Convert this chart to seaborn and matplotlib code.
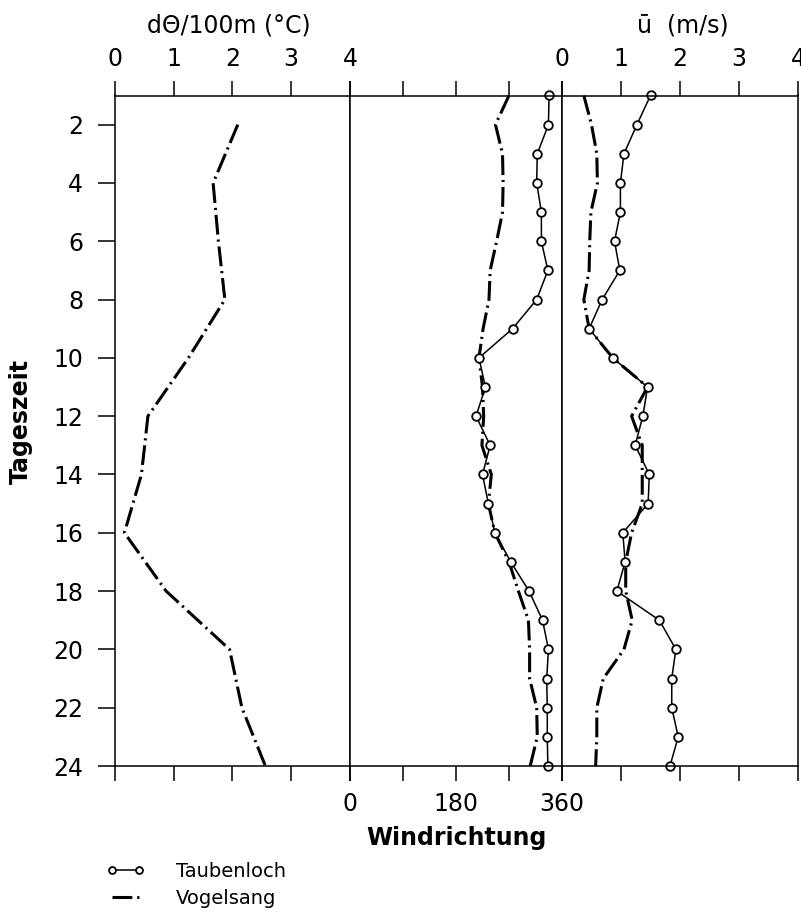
import matplotlib
matplotlib.use("Agg")
import matplotlib.pyplot as plt
import seaborn as sns
import numpy as np
import pandas as pd
from matplotlib.ticker import FixedLocator, FixedFormatter

# ---------------- data ----------------
hours_theta = [2, 4, 6, 8, 10, 12, 14, 16, 18, 20, 22, 24]
theta_vogelsang = [2.09, 1.67, 1.76, 1.87, 1.25, 0.56, 0.45, 0.16, 0.87, 1.95, 2.16, 2.56]

hours = list(range(1, 25))
dir_taubenloch = [338, 337, 318, 317, 325, 325, 336, 317, 276, 219, 230, 214,
                  238, 225, 235, 246, 273, 304, 327, 337, 334, 335, 335, 336]
dir_vogelsang = [270, 247, 259, 260, 259, 249, 238, 236, 226, 219, 225, 227,
                 224, 240, 235, 246, 270, 286, 303, 305, 305, 317, 318, 306]

u_taubenloch = [1.50, 1.27, 1.05, 0.99, 0.99, 0.89, 0.98, 0.68, 0.46, 0.86, 1.45, 1.37,
                1.24, 1.48, 1.46, 1.03, 1.07, 0.93, 1.65, 1.93, 1.86, 1.86, 1.97, 1.83]
u_vogelsang = [0.37, 0.50, 0.59, 0.60, 0.49, 0.47, 0.46, 0.37, 0.46, 0.86, 1.45, 1.18,
               1.36, 1.36, 1.36, 1.18, 1.08, 1.08, 1.19, 1.05, 0.70, 0.59, 0.59, 0.57]

hour_ticks = [2, 4, 6, 8, 10, 12, 14, 16, 18, 20, 22, 24]
theta_ticks = [0, 1, 2, 3, 4]
dir_ticks = [0, 90, 180, 270, 360]
dir_ticklabels = ["0", "", "180", "", "360"]
u_ticks = [0, 1, 2, 3, 4]

# ---------------- style ----------------
sns.set_theme(style="white")
plt.rcParams["font.family"] = ["DejaVu Sans"]
plt.rcParams["axes.edgecolor"] = "black"
plt.rcParams["axes.linewidth"] = 1.1
plt.rcParams["text.color"] = "black"
plt.rcParams["xtick.color"] = "black"
plt.rcParams["ytick.color"] = "black"
plt.rcParams["xtick.labelcolor"] = "black"
plt.rcParams["ytick.labelcolor"] = "black"

W, H = 801, 916
fig = plt.figure(figsize=(W / 100, H / 100), dpi=100)

top_px, bot_px = 95.5, 766.0
def rect(x0, x1):
    return [x0 / W, (H - bot_px) / H, (x1 - x0) / W, (bot_px - top_px) / H]

ax1 = fig.add_axes(rect(115, 350))
ax2 = fig.add_axes(rect(350, 562))
ax3 = fig.add_axes(rect(562, 798))

DASHDOT = (0, (6.5, 1.6, 0.7, 1.6))
vog_kw = dict(color="black", linewidth=2.2, linestyle=DASHDOT, clip_on=False,
              estimator=None, sort=False, orient="y", label="Vogelsang")
tau_kw = dict(color="black", linewidth=1.1, marker="o", markersize=6.2,
              markerfacecolor="white", markeredgecolor="black", markeredgewidth=1.3,
              clip_on=False, estimator=None, sort=False, orient="y", label="Taubenloch")

df_theta = pd.DataFrame({"hour": hours_theta, "theta": theta_vogelsang})
df = pd.DataFrame({"hour": hours, "dir_t": dir_taubenloch, "dir_v": dir_vogelsang,
                   "u_t": u_taubenloch, "u_v": u_vogelsang})

sns.lineplot(data=df_theta, x="theta", y="hour", ax=ax1, **vog_kw)
sns.lineplot(data=df, x="dir_v", y="hour", ax=ax2, **vog_kw)
sns.lineplot(data=df, x="dir_t", y="hour", ax=ax2, **tau_kw)
sns.lineplot(data=df, x="u_v", y="hour", ax=ax3, **vog_kw)
sns.lineplot(data=df, x="u_t", y="hour", ax=ax3, **tau_kw)

for ax in (ax1, ax2, ax3):
    ax.set_ylim(24, 1)
    ax.set_xlabel("")
    ax.set_ylabel("")
    if ax.get_legend() is not None:
        ax.get_legend().remove()
    for sp in ax.spines.values():
        sp.set_visible(True)
        sp.set_color("black")
        sp.set_linewidth(1.1)

FS = 17
# left panel
ax1.set_xlim(0, 4)
ax1.xaxis.set_major_locator(FixedLocator(theta_ticks))
ax1.xaxis.set_major_formatter(FixedFormatter([str(t) for t in theta_ticks]))
ax1.tick_params(axis="x", top=True, labeltop=True, bottom=True, labelbottom=False,
                direction="out", length=11, width=1.1, color="black", labelsize=FS, pad=7)
ax1.yaxis.set_major_locator(FixedLocator(hour_ticks))
ax1.yaxis.set_major_formatter(FixedFormatter([str(h) for h in hour_ticks]))
ax1.tick_params(axis="y", left=True, labelleft=True, direction="out", length=12,
                width=1.1, color="black", labelsize=FS, pad=11)

# middle panel
ax2.set_xlim(0, 360)
ax2.xaxis.set_major_locator(FixedLocator(dir_ticks))
ax2.xaxis.set_major_formatter(FixedFormatter(dir_ticklabels))
ax2.tick_params(axis="x", top=True, labeltop=False, bottom=True, labelbottom=True,
                direction="out", length=11, width=1.1, color="black", labelsize=FS, pad=8)
ax2.set_yticks([])

# right panel
ax3.set_xlim(0, 4)
ax3.xaxis.set_major_locator(FixedLocator(u_ticks))
ax3.xaxis.set_major_formatter(FixedFormatter([str(t) for t in u_ticks]))
ax3.tick_params(axis="x", top=True, labeltop=True, bottom=True, labelbottom=False,
                direction="out", length=11, width=1.1, color="black", labelsize=FS, pad=7)
ax3.set_yticks([])

# titles / labels
fig.text(229 / W, 1 - 25 / H, "dΘ/100m (°C)", ha="center", va="center", fontsize=FS)
fig.text(683 / W, 1 - 25 / H, "ū  (m/s)", ha="center", va="center", fontsize=FS)
fig.text(21 / W, 1 - 422 / H, "Tageszeit", ha="center", va="center", rotation=90,
         fontsize=FS, fontweight="bold")
fig.text(456 / W, 1 - 838 / H, "Windrichtung", ha="center", va="center",
         fontsize=FS, fontweight="bold")

# legend
h, l = ax2.get_legend_handles_labels()
order = [l.index("Taubenloch"), l.index("Vogelsang")]
fig.legend([h[i] for i in order], [l[i] for i in order], loc="upper left",
           bbox_to_anchor=(106 / W, 1 - 862 / H), frameon=False, fontsize=14,
           numpoints=2, handlelength=2.0, handletextpad=1.6, labelspacing=0.4,
           borderaxespad=0, borderpad=0, markerscale=0.8)

fig.savefig("out.png", dpi=100)
